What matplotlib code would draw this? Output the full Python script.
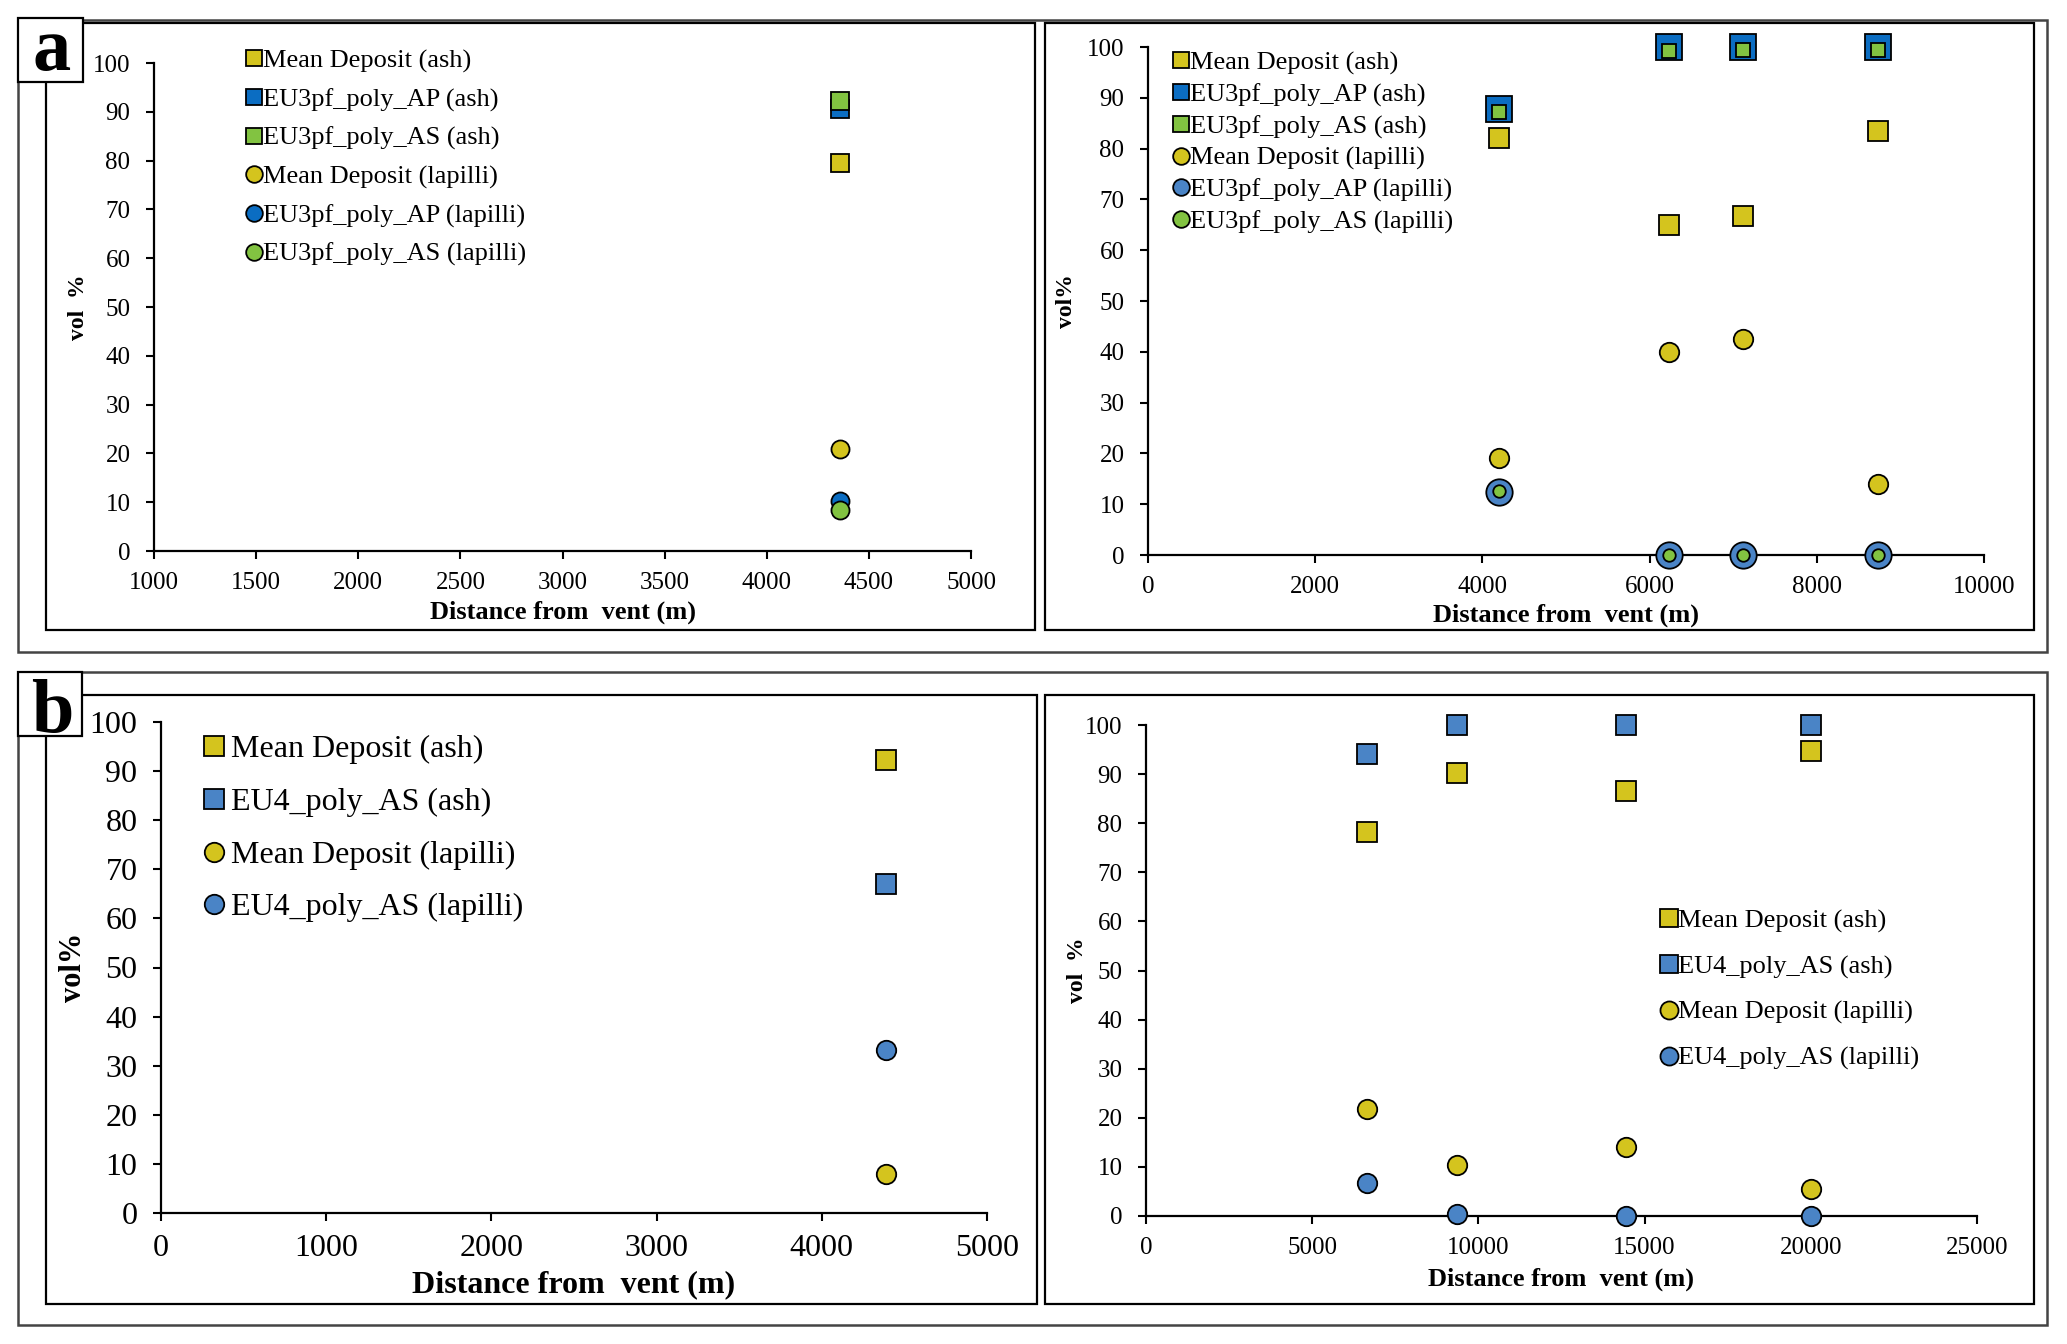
import matplotlib
matplotlib.use("Agg")
import matplotlib.pyplot as plt
from matplotlib.lines import Line2D
from matplotlib.patches import Rectangle

plt.rcParams['font.family'] = ['Liberation Serif', 'DejaVu Serif']

W, H = 2067, 1344

# colours
YEL = "#D4C41E"
BLUE = "#0B6DC2"
GREEN = "#82C341"
STEEL = "#4A84C6"

# ---- panel a, left (EU3pf, one site) ----
aL_x = [4360]
aL_mean_ash = [79.5]
aL_ap_ash = [90.5]
aL_as_ash = [92.2]
aL_mean_lap = [21.0]
aL_ap_lap = [10.3]
aL_as_lap = [8.3]

# ---- panel a, right (EU3pf, four sites) ----
aR_x = [4200, 6230, 7120, 8730]
aR_mean_ash = [82.0, 65.0, 66.8, 83.5]
aR_ap_ash = [87.7, 100, 100, 100]
aR_as_ash = [87.2, 99.3, 99.4, 99.4]
aR_mean_lap = [19.0, 40.0, 42.5, 13.9]
aR_ap_lap = [12.5, 0, 0, 0]
aR_as_lap = [12.6, 0, 0, 0]

# ---- panel b, left (EU4, one site) ----
bL_x = [4390]
bL_mean_ash = [92.2]
bL_eu4_ash = [67.0]
bL_mean_lap = [8.0]
bL_eu4_lap = [33.1]

# ---- panel b, right (EU4, four sites) ----
bR_x = [6640, 9360, 14440, 20000]
bR_mean_ash = [78.3, 90.2, 86.6, 94.8]
bR_eu4_ash = [94.0, 100, 100, 100]
bR_mean_lap = [21.8, 10.3, 14.1, 5.4]
bR_eu4_lap = [6.7, 0.5, 0.0, 0.0]

labels_a = ["Mean Deposit (ash)", "EU3pf_poly_AP (ash)", "EU3pf_poly_AS (ash)",
            "Mean Deposit (lapilli)", "EU3pf_poly_AP (lapilli)", "EU3pf_poly_AS (lapilli)"]
labels_b = ["Mean Deposit (ash)", "EU4_poly_AS (ash)",
            "Mean Deposit (lapilli)", "EU4_poly_AS (lapilli)"]


def px_axes(left, right, bottom, top):
    # pixel box -> figure fraction
    return [left / W, 1 - bottom / H, (right - left) / W, (bottom - top) / H]


def rect(x0, y0, x1, y1, lw=1.6, ec="black", fc="none", z=1):
    r = Rectangle((x0 / W, 1 - y1 / H), (x1 - x0) / W, (y1 - y0) / H,
                  transform=fig.transFigure, lw=lw, ec=ec, fc=fc, zorder=z)
    fig.add_artist(r)


def dots(ax, x, y, marker, color, ms):
    ax.plot(x, y, ls="none", marker=marker, mfc=color, mec="black",
            ms=ms, mew=1.3, clip_on=False, zorder=3)


def style(ax, xlim, xticks, ylabel, tsize, lsize, ysize, ypad, xpad):
    ax.set_xlim(*xlim)
    ax.set_ylim(0, 100)
    ax.set_xticks(xticks)
    ax.set_yticks(range(0, 101, 10))
    for s in ["top", "right"]:
        ax.spines[s].set_visible(False)
    for s in ["left", "bottom"]:
        ax.spines[s].set_linewidth(1.6)
    ax.tick_params(direction="out", length=6, width=1.5, labelsize=tsize)
    ax.tick_params(axis="x", pad=9)
    ax.tick_params(axis="y", pad=11)
    ax.set_xlabel("Distance from  vent (m)", fontsize=lsize, fontweight="bold", labelpad=xpad)
    ax.set_ylabel(ylabel, fontsize=ysize, fontweight="bold", labelpad=ypad)


def legend(ax, markers, colors, labels, ms, size, left, top, spacing, textpad=0.05):
    handles = [Line2D([], [], ls="none", marker=m, mfc=c, mec="black", ms=ms, mew=1.3)
               for m, c in zip(markers, colors)]
    ax.legend(handles, labels, loc="upper left",
              bbox_to_anchor=(left / W, 1 - top / H), bbox_transform=fig.transFigure,
              frameon=False, borderpad=0, borderaxespad=0, handlelength=0.6,
              handletextpad=textpad, labelspacing=spacing, prop={"size": size})


fig = plt.figure(figsize=(W / 100, H / 100), dpi=100)

# frames
rect(18, 20, 2047, 652, lw=1.8, ec="#444444")
rect(18, 672, 2047, 1325, lw=1.8, ec="#444444")
rect(46, 23, 1035, 630)
rect(1045, 23, 2034, 630)
rect(46, 695, 1037, 1304)
rect(1045, 695, 2034, 1304)

# a left
ax = fig.add_axes(px_axes(154, 971, 551, 63))
dots(ax, aL_x, aL_mean_ash, "s", YEL, 13)
dots(ax, aL_x, aL_ap_ash, "s", BLUE, 13)
dots(ax, aL_x, aL_as_ash, "s", GREEN, 13)
dots(ax, aL_x, aL_mean_lap, "o", YEL, 13)
dots(ax, aL_x, aL_ap_lap, "o", BLUE, 13)
dots(ax, aL_x, aL_as_lap, "o", GREEN, 13)
style(ax, (1000, 5000), range(1000, 5001, 500), "vol  %", 18, 19, 17, 3, 5)
legend(ax, ["s", "s", "s", "o", "o", "o"], [YEL, BLUE, GREEN, YEL, BLUE, GREEN],
       labels_a, 12, 19, 246, 49, 0.56)

# a right
ax = fig.add_axes(px_axes(1148, 1984, 555, 47))
dots(ax, aR_x, aR_mean_ash, "s", YEL, 14)
dots(ax, aR_x, aR_ap_ash, "s", BLUE, 18.5)
dots(ax, aR_x, aR_as_ash, "s", GREEN, 10)
dots(ax, aR_x, aR_mean_lap, "o", YEL, 14)
dots(ax, aR_x, aR_ap_lap, "o", STEEL, 19)
dots(ax, aR_x, aR_as_lap, "o", GREEN, 9)
style(ax, (0, 10000), range(0, 10001, 2000), "vol%", 18, 19, 17, 7, 4)
legend(ax, ["s", "s", "s", "o", "o", "o"], [YEL, BLUE, GREEN, YEL, STEEL, GREEN],
       labels_a, 12, 19, 1173, 51, 0.30)

# b left
ax = fig.add_axes(px_axes(161, 987, 1213, 722))
dots(ax, bL_x, bL_mean_ash, "s", YEL, 14)
dots(ax, bL_x, bL_eu4_ash, "s", STEEL, 14)
dots(ax, bL_x, bL_mean_lap, "o", YEL, 14)
dots(ax, bL_x, bL_eu4_lap, "o", STEEL, 14)
style(ax, (0, 5000), range(0, 5001, 1000), "vol%", 23, 23, 22, 1, 5)
legend(ax, ["s", "s", "o", "o"], [YEL, STEEL, YEL, STEEL],
       labels_b, 14, 23, 204, 735, 0.73, textpad=0.25)

# b right
ax = fig.add_axes(px_axes(1146, 1977, 1216, 725))
dots(ax, bR_x, bR_mean_ash, "s", YEL, 14)
dots(ax, bR_x, bR_eu4_ash, "s", STEEL, 14)
dots(ax, bR_x, bR_mean_lap, "o", YEL, 14)
dots(ax, bR_x, bR_eu4_lap, "o", STEEL, 14)
style(ax, (0, 25000), range(0, 25001, 5000), "vol  %", 18, 19, 17, -2, 6)
legend(ax, ["s", "s", "o", "o"], [YEL, STEEL, YEL, STEEL],
       labels_b, 13, 19, 1661, 909, 0.83)

# panel letters
rect(18, 18, 83, 82, lw=1.6, fc="white", z=5)
rect(18, 672, 82, 736, lw=1.6, fc="white", z=5)
fig.text(52 / W, 1 - 70 / H, "a", fontsize=55, fontweight="bold", ha="center", va="baseline", zorder=6)
fig.text(52 / W, 1 - 732 / H, "b", fontsize=55, fontweight="bold", ha="center", va="baseline", zorder=6)

fig.savefig("out.png", dpi=100)
